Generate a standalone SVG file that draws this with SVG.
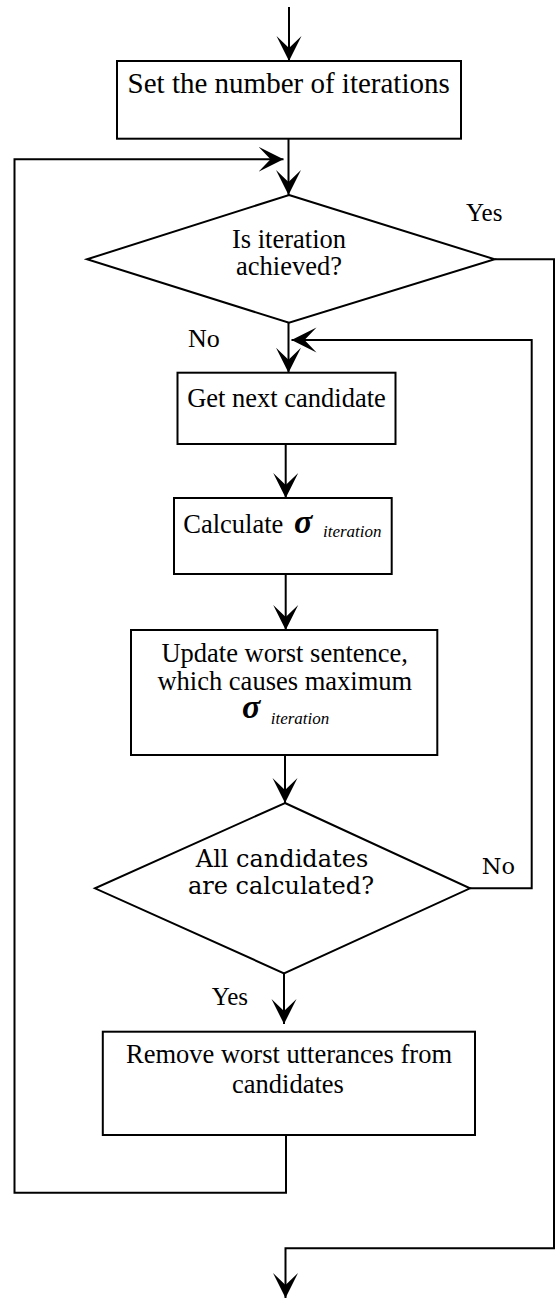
<svg xmlns="http://www.w3.org/2000/svg" width="556" height="1299" viewBox="0 0 556 1299">
<style>
.shape{fill:#fff;stroke:#000;stroke-width:2}
.conn{fill:none;stroke:#000;stroke-width:2}
.t{font-family:"Liberation Serif","Times New Roman",serif;font-size:26.5px;fill:#000}
.tc{text-anchor:middle}
.d{font-family:"DejaVu Serif",serif;font-size:24px;fill:#000}
.sig{font-family:"Liberation Serif","Times New Roman",serif;font-style:italic;font-size:34px;font-weight:bold}
.sub{font-family:"Liberation Serif","Times New Roman",serif;font-style:italic;font-size:17px}
</style>
<defs>
<marker id="arr" markerUnits="userSpaceOnUse" viewBox="0 0 26 26" refX="25" refY="13" markerWidth="26" markerHeight="26" orient="auto">
<path d="M0,0.5 L25,13 L0,25.5 L12,13 Z" fill="#000"/>
</marker>
</defs>
<g id="connectors">
<path class="conn" d="M289,7 L289,61" marker-end="url(#arr)"/>
<path class="conn" d="M288.5,138.7 L288.5,195" marker-end="url(#arr)"/>
<path class="conn" d="M286,1135 L286,1192.7 L14.5,1192.7 L14.5,159.3 L283.5,159.3" marker-end="url(#arr)"/>
<path class="conn" d="M494.7,259.3 L554,259.3 L554,1248.3 L285.5,1248.3 L285.5,1298" marker-end="url(#arr)"/>
<path class="conn" d="M288.5,322.7 L288.5,372.7" marker-end="url(#arr)"/>
<path class="conn" d="M285.7,444 L285.7,498" marker-end="url(#arr)"/>
<path class="conn" d="M285.7,574 L285.7,630" marker-end="url(#arr)"/>
<path class="conn" d="M285,755 L285,803" marker-end="url(#arr)"/>
<path class="conn" d="M470,888.3 L531.7,888.3 L531.7,340 L291.5,340" marker-end="url(#arr)"/>
<path class="conn" d="M284,973.3 L284,1024" marker-end="url(#arr)"/>
<text class="t" x="466" y="220.7" style="font-size:25px">Yes</text>
<text class="t" x="188" y="346.7" style="font-size:26px">No</text>
<text class="d" x="481.7" y="874" style="font-size:22.5px">No</text>
<text class="t" x="211.7" y="1005" style="font-size:25px">Yes</text>
</g>
<g id="set-iterations">
<rect class="shape" x="117" y="61" width="344" height="77.7"/>
<text class="t tc" x="288.7" y="93.3" style="font-size:29px">Set the number of iterations</text>
</g>
<g id="is-iteration-achieved">
<polygon class="shape" points="289,195 494.7,259.3 289,322.7 87,259.3"/>
<text class="t tc" x="289" y="248.3">Is iteration</text>
<text class="t tc" x="289" y="275">achieved?</text>
</g>
<g id="get-next-candidate">
<rect class="shape" x="177.5" y="372.7" width="218" height="71.3"/>
<text class="t tc" x="286.5" y="406.7">Get next candidate</text>
</g>
<g id="calculate-sigma">
<rect class="shape" x="174" y="498" width="217.7" height="76"/>
<text class="t" x="183.3" y="533.3">Calculate</text>
<text class="sig" x="294" y="533.3">σ</text>
<text class="sub" x="323" y="536.7">iteration</text>
</g>
<g id="update-worst">
<rect class="shape" x="131" y="630" width="306.3" height="125"/>
<text class="t tc" x="284.7" y="661.7">Update worst sentence,</text>
<text class="t tc" x="284.8" y="690">which causes maximum</text>
<text class="sig" x="242" y="718.3">σ</text>
<text class="sub" x="270.7" y="724">iteration</text>
</g>
<g id="all-calculated">
<polygon class="shape" points="285,803 470,888.3 284,973.3 95,888.3"/>
<text class="d tc" x="282" y="867.3">All candidates</text>
<text class="d tc" x="281" y="894">are calculated?</text>
</g>
<g id="remove-worst">
<rect class="shape" x="102.8" y="1031.7" width="372.2" height="103.3"/>
<text class="t tc" x="289" y="1063.3">Remove worst utterances from</text>
<text class="t tc" x="288" y="1092.7">candidates</text>
</g>
</svg>
